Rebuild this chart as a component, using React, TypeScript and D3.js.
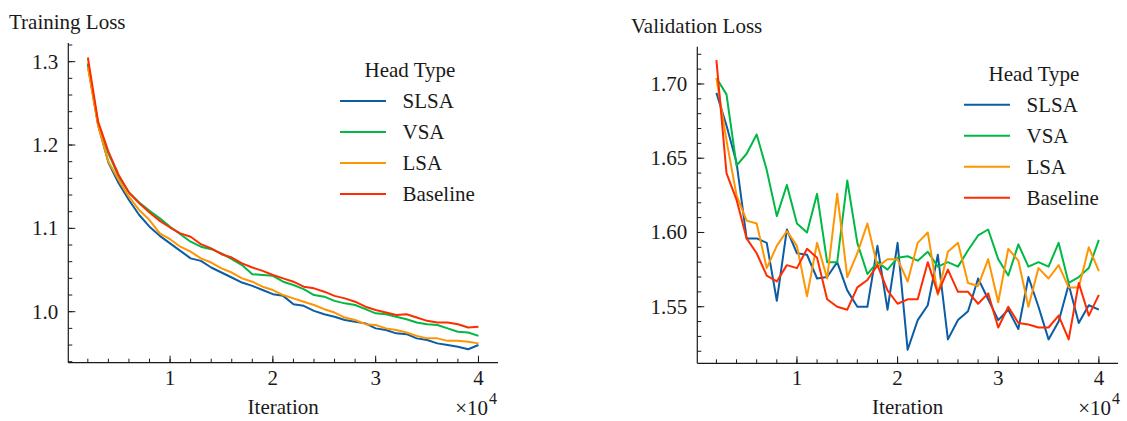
import React from "react";
import * as d3 from "d3";

// iterations logged every 1000 steps
const iterations = [
  2000, 3000, 4000, 5000, 6000, 7000, 8000, 9000, 10000, 11000, 12000, 13000,
  14000, 15000, 16000, 17000, 18000, 19000, 20000, 21000, 22000, 23000, 24000,
  25000, 26000, 27000, 28000, 29000, 30000, 31000, 32000, 33000, 34000, 35000,
  36000, 37000, 38000, 39000, 40000,
];

const headTypes = ["SLSA", "VSA", "LSA", "Baseline"];
const headColors = ["#0C5DA5", "#00B945", "#FF9500", "#FF2C00"];

const trainSLSA = [
  1.296, 1.224, 1.179, 1.154, 1.134, 1.116, 1.102, 1.091, 1.082, 1.073, 1.064,
  1.061, 1.053, 1.047, 1.041, 1.035, 1.031, 1.026, 1.021, 1.019, 1.009, 1.007,
  1.001, 0.997, 0.994, 0.99, 0.988, 0.986, 0.98, 0.978, 0.974, 0.973, 0.968,
  0.966, 0.962, 0.96, 0.958, 0.955, 0.96,
];
const trainVSA = [
  1.298, 1.226, 1.19, 1.162, 1.143, 1.131, 1.121, 1.112, 1.102, 1.093, 1.084,
  1.078, 1.075, 1.07, 1.063, 1.056, 1.045, 1.044, 1.043, 1.036, 1.032, 1.027,
  1.02, 1.018, 1.013, 1.01, 1.008, 1.003, 0.998, 0.997, 0.994, 0.991, 0.987,
  0.985, 0.984, 0.98, 0.976, 0.975, 0.971,
];
const trainLSA = [
  1.294, 1.223, 1.18, 1.158, 1.138, 1.122, 1.11, 1.094, 1.087, 1.078, 1.072,
  1.064, 1.059, 1.052, 1.047, 1.04, 1.036, 1.03, 1.026, 1.02, 1.016, 1.012,
  1.008, 1.003, 0.999, 0.993, 0.99, 0.985, 0.984, 0.98, 0.978, 0.975, 0.971,
  0.968, 0.968, 0.965, 0.965, 0.964, 0.962,
];
const trainBaseline = [
  1.305, 1.228, 1.192, 1.164, 1.143, 1.13, 1.119, 1.109, 1.101, 1.094, 1.09,
  1.081, 1.076, 1.069, 1.065, 1.058, 1.053, 1.049, 1.044, 1.04, 1.036, 1.03,
  1.028, 1.024, 1.019, 1.016, 1.012, 1.006, 1.002, 0.999, 0.996, 0.997, 0.993,
  0.989, 0.987, 0.987, 0.985, 0.981, 0.982,
];

const valSLSA = [
  1.694, 1.672, 1.647, 1.596, 1.596, 1.593, 1.554, 1.602, 1.586, 1.585, 1.569,
  1.57, 1.58, 1.561, 1.55, 1.55, 1.591, 1.548, 1.593, 1.521, 1.541, 1.551,
  1.585, 1.528, 1.541, 1.547, 1.569, 1.555, 1.541, 1.548, 1.535, 1.57, 1.55,
  1.528, 1.54, 1.565, 1.539, 1.551, 1.548,
];
const valVSA = [
  1.704, 1.693, 1.645, 1.653, 1.666, 1.642, 1.611, 1.632, 1.606, 1.6, 1.626,
  1.58, 1.58, 1.635, 1.593, 1.572, 1.58, 1.575, 1.583, 1.584, 1.581, 1.587,
  1.577, 1.58, 1.577, 1.588, 1.598, 1.602, 1.582, 1.571, 1.592, 1.577, 1.58,
  1.577, 1.593, 1.566, 1.57, 1.576, 1.595,
];
const valLSA = [
  1.704, 1.662, 1.625, 1.608, 1.606, 1.576, 1.591, 1.601, 1.591, 1.557, 1.593,
  1.569, 1.626, 1.57, 1.586, 1.606, 1.577, 1.582, 1.582, 1.567, 1.593, 1.6,
  1.558, 1.587, 1.593, 1.566, 1.564, 1.582, 1.553, 1.589, 1.581, 1.55, 1.576,
  1.569, 1.578, 1.563, 1.563, 1.59, 1.574,
];
const valBaseline = [
  1.716, 1.64, 1.622, 1.596, 1.586, 1.571, 1.567, 1.578, 1.576, 1.589, 1.583,
  1.555, 1.55, 1.548, 1.563, 1.568, 1.578, 1.561, 1.552, 1.555, 1.555, 1.58,
  1.559, 1.575, 1.56, 1.56, 1.552, 1.559, 1.536, 1.55, 1.539, 1.538, 1.536,
  1.536, 1.544, 1.528, 1.566, 1.544, 1.558,
];

const trainSeries = [trainSLSA, trainVSA, trainLSA, trainBaseline];
const valSeries = [valSLSA, valVSA, valLSA, valBaseline];

const trainTicks = [1.0, 1.1, 1.2, 1.3];
const valTicks = [1.55, 1.6, 1.65, 1.7];
const iterTicks = [10000, 20000, 30000, 40000];

const FONT = "'Liberation Serif', 'Times New Roman', serif";
const INK = "#1a1a1a";

function Panel({ title, titleX, series, box, yDomain, yTicks, yMinor, yFmt, offsetEnd, legendX }) {
  const { left, right, top, bottom } = box;
  const x = d3.scaleLinear().domain([100, 41900]).range([left, right]);
  const y = d3.scaleLinear().domain(yDomain).range([bottom, top]);
  const line = d3
    .line()
    .x((d, i) => x(iterations[i]))
    .y((d) => y(d));

  const xMinor = d3.range(2000, 40001, 2000);
  const yMinorTicks = d3
    .range(Math.ceil(yDomain[0] / yMinor), Math.floor(yDomain[1] / yMinor) + 1)
    .map((k) => k * yMinor);

  return (
    <g>
      <text x={titleX} y={top - 14} fontSize={21} fontFamily={FONT} fill={INK}>
        {title}
      </text>

      {series.map((s, i) => (
        <path key={i} d={line(s)} fill="none" stroke={headColors[i]} strokeWidth={2} strokeLinejoin="round" />
      ))}

      {/* spines */}
      <line x1={left} x2={left} y1={top} y2={bottom} stroke={INK} strokeWidth={1.2} />
      <line x1={left} x2={right} y1={bottom} y2={bottom} stroke={INK} strokeWidth={1.2} />

      {xMinor.map((t) => (
        <line key={"xm" + t} x1={x(t)} x2={x(t)} y1={bottom} y2={bottom - 4} stroke={INK} strokeWidth={1} />
      ))}
      {iterTicks.map((t) => (
        <g key={"x" + t}>
          <line x1={x(t)} x2={x(t)} y1={bottom} y2={bottom - 7} stroke={INK} strokeWidth={1} />
          <text x={x(t)} y={bottom + 22} textAnchor="middle" fontSize={21} fontFamily={FONT} fill={INK}>
            {t / 10000}
          </text>
        </g>
      ))}
      {yMinorTicks.map((t) => (
        <line key={"ym" + t} x1={left} x2={left + 4} y1={y(t)} y2={y(t)} stroke={INK} strokeWidth={1} />
      ))}
      {yTicks.map((t) => (
        <g key={"y" + t}>
          <line x1={left} x2={left + 7} y1={y(t)} y2={y(t)} stroke={INK} strokeWidth={1} />
          <text x={left - 10} y={y(t) + 7} textAnchor="end" fontSize={21} fontFamily={FONT} fill={INK}>
            {yFmt(t)}
          </text>
        </g>
      ))}

      <text x={(left + right) / 2} y={414} textAnchor="middle" fontSize={21} fontFamily={FONT} fill={INK}>
        Iteration
      </text>
      {/* offset text ×10^4 */}
      <text x={offsetEnd - 9} y={415} textAnchor="end" fontSize={21} fontFamily={FONT} fill={INK}>
        ×10
      </text>
      <text x={offsetEnd - 8} y={404} textAnchor="start" fontSize={16} fontFamily={FONT} fill={INK}>
        4
      </text>

      {/* legend */}
      <text x={legendX + 70} y={top + 34} textAnchor="middle" fontSize={21} fontFamily={FONT} fill={INK}>
        Head Type
      </text>
      {headTypes.map((name, i) => (
        <g key={name} transform={`translate(${legendX},${top + 58 + i * 31})`}>
          <line x1={0} x2={46} y1={0} y2={0} stroke={headColors[i]} strokeWidth={2} />
          <text x={62.5} y={7} fontSize={21} fontFamily={FONT} fill={INK}>
            {name}
          </text>
        </g>
      ))}
    </g>
  );
}

export default function App() {
  return (
    <svg
      width={1127}
      height={421}
      style={{ position: "absolute", left: 0, top: 0, background: "#fff" }}
    >
      <Panel
        title="Training Loss"
        titleX={9}
        series={trainSeries}
        box={{ left: 68.3, right: 498, top: 43, bottom: 362.7 }}
        yDomain={[0.9388, 1.3224]}
        yTicks={trainTicks}
        yMinor={0.02}
        yFmt={d3.format(".1f")}
        offsetEnd={497}
        legendX={340}
      />
      <Panel
        title="Validation Loss"
        titleX={631}
        series={valSeries}
        box={{ left: 697.3, right: 1118, top: 46.7, bottom: 363.3 }}
        yDomain={[1.5119, 1.7251]}
        yTicks={valTicks}
        yMinor={0.01}
        yFmt={d3.format(".2f")}
        offsetEnd={1120}
        legendX={964}
      />
    </svg>
  );
}
